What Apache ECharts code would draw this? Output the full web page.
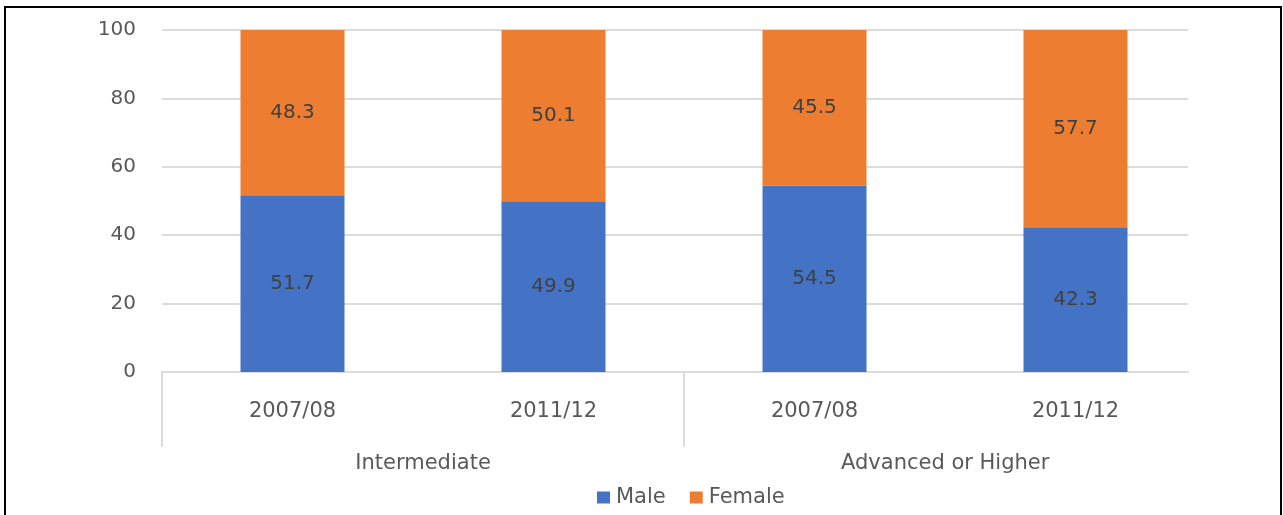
<!DOCTYPE html>
<html>
<head>
<meta charset="utf-8">
<script src="https://cdn.jsdelivr.net/npm/echarts@6/dist/echarts.min.js"></script>
<style>
html,body{margin:0;padding:0;background:#fff;}
#chart{width:1283px;height:515px;}
</style>
</head>
<body>
<div id="chart"></div>
<script>
const years = ['2007/08', '2011/12', '2007/08', '2011/12'];
const groups = ['Intermediate', 'Advanced or Higher'];
const male = [51.7, 49.9, 54.5, 42.3];
const female = [48.3, 50.1, 45.5, 57.7];
const yTicks = [0, 20, 40, 60, 80, 100];

const FONT = 'DejaVu Sans';
const TXT = '#595959';
const GRID = '#dcdcdc';
// frame axis (grid 1) measured in category slots; plot frame ends slightly before last slot boundary
const X_MAX = 3.93;
const groupPos = groups.map((_, g) => g * 2 + 1);
const groupEdges = groups.map((_, g) => g * 2);

const chart = echarts.init(document.getElementById('chart'), null, {renderer: 'canvas'});
chart.setOption({
  animation: false,
  textStyle: {fontFamily: FONT},
  graphic: [{
    type: 'rect', silent: true, z: 100,
    shape: {x: 5, y: 7, width: 1276, height: 600},
    style: {fill: 'none', stroke: '#000', lineWidth: 2}
  }],
  legend: {
    data: ['Male', 'Female'],
    left: 597, top: 487, padding: 0,
    itemWidth: 13, itemHeight: 12, itemGap: 24,
    icon: 'rect',
    textStyle: {fontFamily: FONT, fontSize: 21, color: TXT, padding: [0, 0, 0, 1]}
  },
  grid: [
    {left: 162, right: 77, top: 30, bottom: 143},
    {left: 162, right: 95, top: 30, bottom: 143}
  ],
  xAxis: [{
    gridIndex: 0,
    type: 'category',
    data: years,
    axisLine: {show: false},
    axisTick: {show: false},
    axisLabel: {fontFamily: FONT, fontSize: 21, color: TXT, margin: 29, interval: 0}
  }, {
    gridIndex: 1,
    type: 'value', min: 0, max: X_MAX,
    position: 'bottom',
    axisLine: {show: true, lineStyle: {color: GRID, width: 2}},
    splitLine: {show: false},
    axisTick: {show: true, customValues: groupEdges, length: 75, lineStyle: {color: GRID, width: 2}},
    axisLabel: {
      customValues: groupPos,
      fontFamily: FONT, fontSize: 21, color: TXT, margin: 81,
      formatter: v => groups[Math.round((v - 1) / 2)]
    }
  }],
  yAxis: [{
    gridIndex: 0,
    type: 'value', min: 0, max: 100, interval: 20,
    show: false
  }, {
    gridIndex: 1,
    type: 'value', min: 0, max: 100, interval: 20,
    axisLine: {show: false}, axisTick: {show: false},
    splitLine: {lineStyle: {color: GRID, width: 2}},
    axisLabel: {fontFamily: FONT, fontSize: 20, color: TXT, margin: 26,
      formatter: v => yTicks.includes(v) ? String(v) : ''}
  }],
  series: [{
    name: 'Male', type: 'bar', stack: 'a', xAxisIndex: 0, yAxisIndex: 0, barWidth: 104,
    data: male,
    itemStyle: {color: '#4472C4'},
    label: {show: true, position: 'inside', color: '#404040', fontFamily: FONT, fontSize: 20}
  }, {
    name: 'Female', type: 'bar', stack: 'a', xAxisIndex: 0, yAxisIndex: 0, barWidth: 104,
    data: female,
    itemStyle: {color: '#ED7D31'},
    label: {show: true, position: 'inside', color: '#404040', fontFamily: FONT, fontSize: 20}
  }]
});
</script>
</body>
</html>
